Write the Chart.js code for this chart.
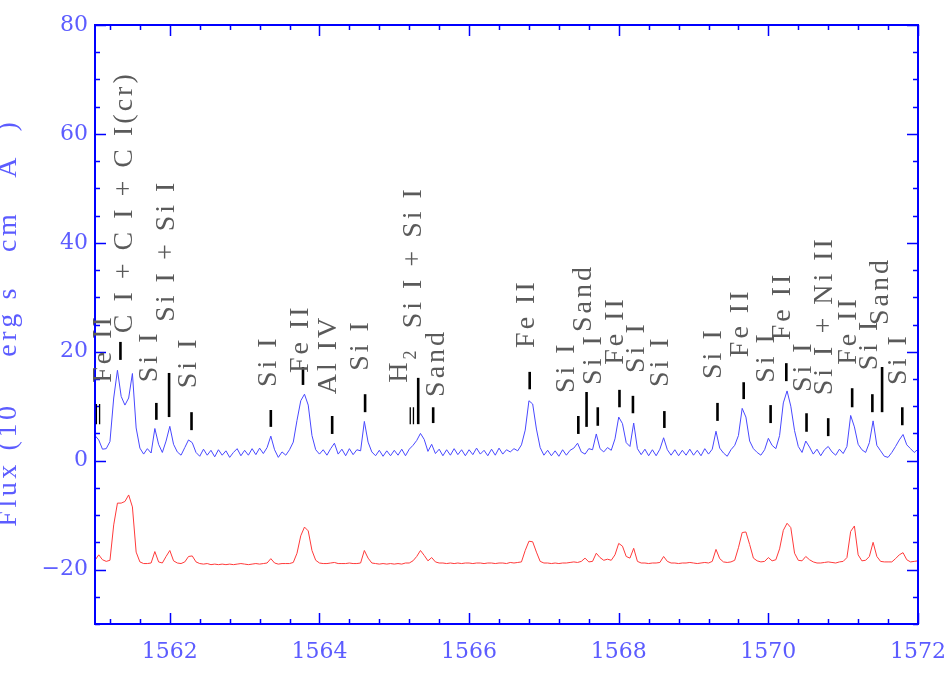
<!DOCTYPE html>
<html><head><meta charset="utf-8">
<script src="https://cdn.jsdelivr.net/npm/chart.js@4.4.1/dist/chart.umd.min.js"></script>
<style>html,body{margin:0;padding:0;background:#fff;}#wrap{position:relative;width:950px;height:700px;}</style>
</head><body><div id="wrap"><canvas id="c" width="950" height="700"></canvas></div>
<script>
// ---------------- data ----------------
const wavelength = [
1561.00,1561.05,1561.10,1561.15,1561.20,1561.25,1561.30,1561.35,1561.40,1561.45,
1561.50,1561.55,1561.60,1561.65,1561.70,1561.75,1561.80,1561.85,1561.90,1561.95,
1562.00,1562.05,1562.10,1562.15,1562.20,1562.25,1562.30,1562.35,1562.40,1562.45,
1562.50,1562.55,1562.60,1562.65,1562.70,1562.75,1562.80,1562.85,1562.90,1562.95,
1563.00,1563.05,1563.10,1563.15,1563.20,1563.25,1563.30,1563.35,1563.40,1563.45,
1563.50,1563.55,1563.60,1563.65,1563.70,1563.75,1563.80,1563.85,1563.90,1563.95,
1564.00,1564.05,1564.10,1564.15,1564.20,1564.25,1564.30,1564.35,1564.40,1564.45,
1564.50,1564.55,1564.60,1564.65,1564.70,1564.75,1564.80,1564.85,1564.90,1564.95,
1565.00,1565.05,1565.10,1565.15,1565.20,1565.25,1565.30,1565.35,1565.40,1565.45,
1565.50,1565.55,1565.60,1565.65,1565.70,1565.75,1565.80,1565.85,1565.90,1565.95,
1566.00,1566.05,1566.10,1566.15,1566.20,1566.25,1566.30,1566.35,1566.40,1566.45,
1566.50,1566.55,1566.60,1566.65,1566.70,1566.75,1566.80,1566.85,1566.90,1566.95,
1567.00,1567.05,1567.10,1567.15,1567.20,1567.25,1567.30,1567.35,1567.40,1567.45,
1567.50,1567.55,1567.60,1567.65,1567.70,1567.75,1567.80,1567.85,1567.90,1567.95,
1568.00,1568.05,1568.10,1568.15,1568.20,1568.25,1568.30,1568.35,1568.40,1568.45,
1568.50,1568.55,1568.60,1568.65,1568.70,1568.75,1568.80,1568.85,1568.90,1568.95,
1569.00,1569.05,1569.10,1569.15,1569.20,1569.25,1569.30,1569.35,1569.40,1569.45,
1569.50,1569.55,1569.60,1569.65,1569.70,1569.75,1569.80,1569.85,1569.90,1569.95,
1570.00,1570.05,1570.10,1570.15,1570.20,1570.25,1570.30,1570.35,1570.40,1570.45,
1570.50,1570.55,1570.60,1570.65,1570.70,1570.75,1570.80,1570.85,1570.90,1570.95,
1571.00,1571.05,1571.10,1571.15,1571.20,1571.25,1571.30,1571.35,1571.40,1571.45,
1571.50,1571.55,1571.60,1571.65,1571.70,1571.75,1571.80,1571.85,1571.90,1571.95,
1572.00];

const fluxBlue = [
4.6,3.8,2.1,2.2,3.5,11.5,16.6,11.8,10.2,11.5,
16.0,6.0,2.3,1.2,2.2,1.4,5.9,3.0,1.5,3.6,
6.3,3.0,1.6,1.0,2.4,3.8,3.3,1.5,0.8,2.1,
1.0,1.9,0.7,2.0,1.0,1.8,0.6,1.5,2.2,0.9,
1.9,1.0,2.2,1.1,2.3,1.3,2.4,4.5,2.0,0.6,
1.6,1.0,2.0,3.4,7.4,11.0,12.2,10.2,4.6,2.0,
1.2,2.0,1.0,2.2,3.2,1.2,2.1,0.9,2.2,1.1,
2.0,1.8,7.2,3.4,1.6,0.9,1.9,0.8,1.8,0.9,
1.9,1.0,2.1,0.9,2.1,2.8,3.7,5.0,3.9,1.7,
3.0,1.3,2.1,0.9,2.0,1.0,2.2,1.1,2.0,0.9,
2.0,1.1,2.3,1.2,1.9,0.9,2.1,1.0,2.3,1.2,
2.0,1.6,2.2,1.8,2.9,5.6,11.0,10.4,5.8,2.4,
1.0,1.9,0.9,1.8,0.8,2.0,1.0,1.9,2.3,3.2,
1.6,1.2,2.2,2.0,4.9,2.2,1.6,2.4,1.9,4.0,
8.0,6.8,3.3,2.6,6.9,2.2,1.1,2.1,0.9,2.0,
0.9,2.1,4.2,2.0,1.0,2.0,0.9,1.9,1.0,2.1,
1.0,1.9,0.9,2.2,1.2,2.1,5.4,2.3,1.4,0.8,
2.0,2.8,4.6,9.6,8.0,3.6,2.2,1.5,1.0,2.0,
4.1,2.8,2.2,4.6,10.6,12.8,10.0,5.5,2.6,1.5,
3.6,2.5,1.2,2.1,0.9,2.0,2.6,1.6,1.0,2.1,
1.3,2.6,8.3,6.2,3.0,2.0,1.5,3.3,7.3,2.8,
1.8,0.8,0.6,1.5,2.6,3.8,4.8,2.9,2.2,1.5,
2.1];

const fluxRed = [
-18.3,-17.3,-18.2,-18.5,-18.3,-11.8,-7.8,-7.8,-7.5,-6.3,
-8.5,-16.8,-18.6,-18.9,-18.9,-18.8,-16.7,-18.6,-18.8,-17.6,
-16.5,-18.4,-18.8,-18.9,-18.6,-17.6,-17.5,-18.6,-18.9,-19.0,
-18.9,-19.1,-19.0,-19.1,-19.0,-19.1,-19.0,-19.1,-19.0,-18.9,
-19.0,-19.1,-19.0,-18.9,-19.0,-18.9,-18.8,-18.0,-18.8,-19.0,
-18.9,-18.9,-18.9,-18.7,-17.0,-13.8,-12.2,-12.9,-16.5,-18.3,
-18.8,-18.9,-18.9,-18.8,-18.7,-18.9,-18.9,-18.9,-18.8,-18.9,
-18.9,-18.8,-16.5,-17.9,-18.8,-18.9,-19.0,-18.9,-19.0,-18.9,
-19.0,-18.9,-19.0,-18.8,-18.8,-18.4,-17.6,-16.5,-17.4,-18.4,
-17.8,-18.6,-18.8,-18.8,-18.9,-18.8,-18.9,-18.8,-18.9,-18.8,
-18.8,-18.9,-18.8,-18.8,-18.9,-18.8,-18.8,-18.9,-18.8,-18.8,
-18.9,-18.7,-18.8,-18.7,-18.6,-16.5,-14.8,-14.9,-16.8,-18.5,
-18.8,-18.8,-18.9,-18.8,-18.9,-18.8,-18.8,-18.7,-18.6,-18.7,
-18.5,-17.9,-18.6,-18.5,-17.0,-17.8,-18.3,-18.1,-18.3,-17.3,
-15.2,-15.7,-17.6,-17.9,-16.1,-18.5,-18.8,-18.8,-18.9,-18.8,
-18.8,-18.7,-17.6,-18.5,-18.8,-18.8,-18.9,-18.8,-18.8,-18.7,
-18.8,-18.9,-18.8,-18.7,-18.8,-18.5,-16.3,-18.0,-18.6,-18.7,
-18.6,-18.3,-16.0,-13.2,-13.1,-15.4,-17.9,-18.4,-18.6,-18.5,
-17.8,-18.4,-18.2,-16.2,-12.8,-11.5,-12.3,-17.0,-18.3,-18.4,
-17.6,-18.2,-18.6,-18.8,-18.8,-18.7,-18.6,-18.7,-18.8,-18.6,
-18.5,-17.8,-13.0,-12.0,-17.3,-18.4,-18.3,-17.6,-15.0,-17.6,
-18.5,-18.6,-18.6,-18.6,-18.0,-17.3,-16.9,-18.2,-18.6,-18.5,
-18.4];

const xTickValues = [1562, 1564, 1566, 1568, 1570, 1572];
const yTickValues = [-20, 0, 20, 40, 60, 80];

// identified lines: name and wavelength of the tick
const lineNames = ["Fe II","C I + C I + C I(cr)","Si I","Si I + Si I","Si I","Si I","Fe II","Al IV","Si I",
  "H2","Si I + Si I","Sand","Fe II","Si I","Sand","Si I","Fe II","Si I","Si I","Si I","Fe II","Si I",
  "Fe II","Si I","Si I + Ni II","Fe II","Si I","Sand","Si I"];
const lineWaves = [1561.04,1561.34,1561.82,1561.99,1562.29,1563.35,1563.78,1564.17,1564.61,
  1565.235,1565.32,1565.52,1566.81,1567.46,1567.57,1567.72,1568.01,1568.19,1568.61,1569.32,1569.67,1570.03,
  1570.24,1570.51,1570.80,1571.12,1571.39,1571.52,1571.79];

// annotation layout (axis units): [text centre wavelength, text start flux, tick top flux, tick bottom flux, double tick]
const labelLayout = [
 [1561.087,14.3,10.4,6.7,1],[1561.367,23.4,21.8,18.5,0],[1561.70,14.4,10.6,7.5,0],[1561.93,25.5,16.1,8.0,0],
 [1562.22,13.3,8.9,5.6,0],[1563.29,13.5,9.3,6.2,0],[1563.72,16.1,17.2,13.9,0],[1564.10,12.2,8.2,4.9,0],
 [1564.53,16.5,12.2,8.9,0],[1565.05,14.3,9.8,6.7,1],[1565.24,24.3,15.2,6.7,0],[1565.54,11.7,9.8,6.9,0],
 [1566.74,20.7,16.3,13.1,0],[1567.28,12.4,8.2,4.9,0],[1567.50,23.6,12.6,6.2,0],[1567.64,13.9,9.8,6.4,0],
 [1567.93,17.6,13.0,9.8,0],[1568.21,16.1,11.9,8.7,0],[1568.53,13.5,9.1,6.0,0],[1569.24,15.0,10.6,7.3,0],
 [1569.60,19.0,14.4,11.3,0],[1569.95,14.3,10.2,6.9,0],[1570.16,22.1,17.9,14.6,0],[1570.44,12.6,8.7,5.3,0],
 [1570.73,12.0,7.8,4.5,0],[1571.05,17.6,13.3,9.8,0],[1571.33,16.6,12.2,8.9,0],[1571.47,24.9,17.2,8.9,0],
 [1571.71,13.9,9.8,6.5,0]];

// ---------------- style ----------------
const AXIS_BLUE = '#0000ff';
const TEXT_BLUE = '#5c5cff';
const LABEL_GRAY = '#5a5a5a';
const SERIF = '"Liberation Serif", serif';
const LABEL_SIZE = 28, LABEL_SPACING = 3.0;
const X_MINOR = 0.4, Y_MINOR = 5;

function segsFor(name) {
  if (name === 'H2') return [{t:'H'},{t:'2', scale:0.65, shift:-0.3}];
  return [{t:name}];
}
function rotatedLength(ctx, segs, size, spacing) {
  let len = 0;
  for (const s of segs) {
    ctx.font = (size * (s.scale || 1)) + 'px ' + SERIF;
    for (const ch of s.t) len += ctx.measureText(ch).width + spacing;
  }
  return len - spacing;
}
function drawRotated(ctx, segs, cx, startY, size, spacing, color) {
  ctx.save();
  ctx.translate(cx, startY);
  ctx.rotate(-Math.PI / 2);
  ctx.fillStyle = color;
  ctx.textBaseline = 'alphabetic';
  ctx.textAlign = 'left';
  const base = size * 0.33;
  let pos = 0;
  for (const s of segs) {
    ctx.font = (size * (s.scale || 1)) + 'px ' + SERIF;
    for (const ch of s.t) {
      ctx.fillText(ch, pos, base - (s.shift || 0) * size);
      pos += ctx.measureText(ch).width + spacing;
    }
  }
  ctx.restore();
}

const framePlugin = {
  id: 'frame',
  afterDatasetsDraw(chart) {
    const {ctx, chartArea: a, scales: {x, y}} = chart;
    ctx.save();
    ctx.strokeStyle = AXIS_BLUE;
    ctx.lineWidth = 1.5;
    ctx.beginPath();
    for (let k = Math.ceil(x.min / X_MINOR - 1e-6); k * X_MINOR <= x.max + 1e-6; k++) {
      const v = Math.round(k * X_MINOR * 1000) / 1000;
      const px = Math.round(x.getPixelForValue(v)) + 0.5;
      const len = (Math.abs(v / 2 - Math.round(v / 2)) < 1e-6) ? 11 : 5;
      ctx.moveTo(px, a.bottom); ctx.lineTo(px, a.bottom - len);
      ctx.moveTo(px, a.top); ctx.lineTo(px, a.top + len);
    }
    for (let k = Math.ceil(y.min / Y_MINOR - 1e-6); k * Y_MINOR <= y.max + 1e-6; k++) {
      const v = k * Y_MINOR;
      const py = Math.round(y.getPixelForValue(v)) + 0.5;
      const len = (v % 20 === 0) ? 11 : 5;
      ctx.moveTo(a.left, py); ctx.lineTo(a.left + len, py);
      ctx.moveTo(a.right, py); ctx.lineTo(a.right - len, py);
    }
    ctx.stroke();
    ctx.lineWidth = 2;
    ctx.strokeRect(a.left, a.top, a.right - a.left, a.bottom - a.top);
    ctx.restore();
  }
};

const labelPlugin = {
  id: 'lineLabels',
  afterDatasetsDraw(chart) {
    const {ctx, scales: {x, y}} = chart;
    ctx.save();
    ctx.strokeStyle = '#000000';
    lineNames.forEach((name, i) => {
      const [tw, tb, t1, t2, dbl] = labelLayout[i];
      const px = x.getPixelForValue(lineWaves[i]);
      const y1 = y.getPixelForValue(t1), y2 = y.getPixelForValue(t2);
      ctx.beginPath();
      if (dbl) {
        ctx.lineWidth = 1.3;
        ctx.moveTo(px - 1.6, y1); ctx.lineTo(px - 1.6, y2);
        ctx.moveTo(px + 1.6, y1); ctx.lineTo(px + 1.6, y2);
      } else {
        ctx.lineWidth = 2.6;
        ctx.moveTo(px, y1); ctx.lineTo(px, y2);
      }
      ctx.stroke();
      drawRotated(ctx, segsFor(name), x.getPixelForValue(tw), y.getPixelForValue(tb), LABEL_SIZE, LABEL_SPACING, LABEL_GRAY);
    });
    ctx.restore();
  }
};

const titlePlugin = {
  id: 'yTitle',
  afterDraw(chart) {
    const {ctx, chartArea: a} = chart;
    const size = 28, spacing = 3.6;
    const segs = [{t:'Flux (10'},{t:'-14', scale:0.65, shift:0.8},{t:' erg s'},{t:'-1', scale:0.65, shift:0.8},
      {t:' cm'},{t:'-2', scale:0.65, shift:0.8},{t:' \u00C5'},{t:'-1', scale:0.65, shift:0.8},{t:')'}];
    const len = rotatedLength(ctx, segs, size, spacing);
    const cy = (a.top + a.bottom) / 2;
    drawRotated(ctx, segs, 16 - size * 0.33, cy + len / 2, size, spacing, TEXT_BLUE);
  }
};

const tickFont = {family: '"DejaVu Serif", serif', size: 22};

new Chart(document.getElementById('c').getContext('2d'), {
  type: 'line',
  data: {
    datasets: [
      {data: wavelength.map((w, i) => ({x: w, y: fluxBlue[i]})), borderColor: '#4848ff', borderWidth: 1, pointRadius: 0, tension: 0, fill: false},
      {data: wavelength.map((w, i) => ({x: w, y: fluxRed[i]})), borderColor: '#ff3a3a', borderWidth: 1, pointRadius: 0, tension: 0, fill: false}
    ]
  },
  options: {
    responsive: false, animation: false, events: [],
    layout: {padding: {top: 25, right: 32, bottom: 0, left: 0}},
    plugins: {legend: {display: false}, tooltip: {enabled: false}, title: {display: false}},
    scales: {
      x: {
        type: 'linear', min: 1561, max: 1572,
        afterBuildTicks: s => { s.ticks = xTickValues.map(v => ({value: v})); },
        afterFit: s => { s.height = 76; s.paddingLeft = 0; s.paddingRight = 0; },
        grid: {display: false, drawTicks: false}, border: {display: false},
        ticks: {font: tickFont, color: TEXT_BLUE, padding: 15, maxRotation: 0, autoSkip: false, callback: v => String(v)}
      },
      y: {
        type: 'linear', min: -30, max: 80,
        afterBuildTicks: s => { s.ticks = yTickValues.map(v => ({value: v})); },
        afterFit: s => { s.width = 95; s.paddingTop = 0; s.paddingBottom = 0; },
        grid: {display: false, drawTicks: false}, border: {display: false},
        ticks: {font: tickFont, color: TEXT_BLUE, padding: 7, autoSkip: false, callback: v => v < 0 ? '\u2212' + Math.abs(v) : String(v)}
      }
    }
  },
  plugins: [framePlugin, labelPlugin, titlePlugin]
});
</script>
</body></html>
